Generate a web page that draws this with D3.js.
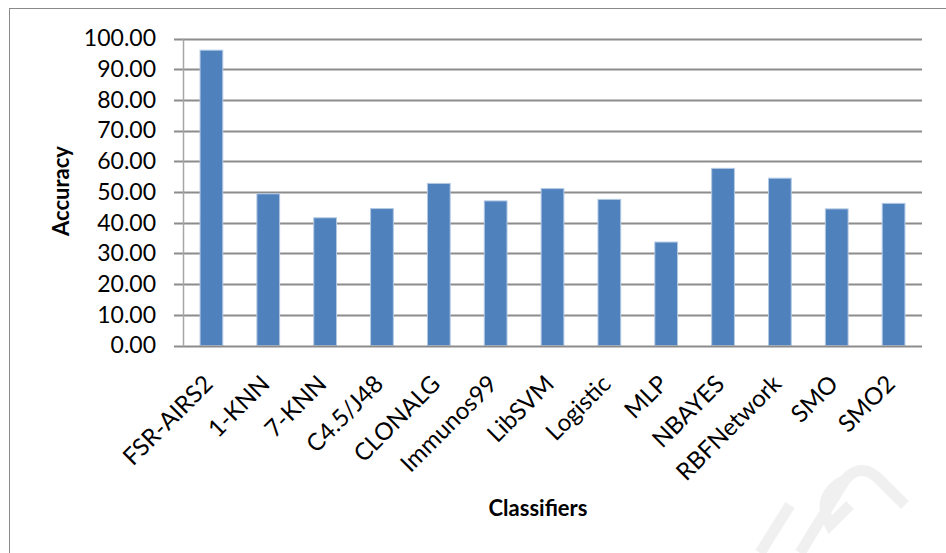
<!DOCTYPE html>
<html>
<head>
<meta charset="utf-8">
<script src="https://cdn.jsdelivr.net/npm/d3@7/dist/d3.min.js"></script>
<style>
html,body{margin:0;padding:0;background:#fff;}
svg{display:block;font-family:Lato, "Open Sans", sans-serif;}
</style>
</head>
<body>
<svg id="chart" width="946" height="553"></svg>
<script>
const categories = ["FSR-AIRS2","1-KNN","7-KNN","C4.5/J48","CLONALG","Immunos99","LibSVM","Logistic","MLP","NBAYES","RBFNetwork","SMO","SMO2"];
const accuracy = [96.2, 49.4, 41.6, 44.6, 52.8, 47.1, 51.1, 47.6, 33.7, 57.7, 54.5, 44.5, 46.3];
const yTicks = [0,10,20,30,40,50,60,70,80,90,100];
const yTitle = "Accuracy";
const xTitle = "Classifiers";

const svg = d3.select("#chart");
const plot = {left:183, right:922, top:38.5, bottom:345.5};

// outer chart border
svg.append("rect").attr("x",9.5).attr("y",8.5).attr("width",960).attr("height",570)
  .attr("fill","#fff").attr("stroke","#8a8a8a").attr("stroke-width",1);

// faint watermark strokes
svg.append("path")
  .attr("d","M760,553 L790,505 M800,553 L845,480 Q860,462 878,478 L905,505 M845,480 Q815,495 830,525 L850,505")
  .attr("fill","none").attr("stroke","#f0f0f0").attr("stroke-width",11);

const x = d3.scaleBand().domain(categories).range([plot.left, plot.right])
  .paddingInner(0.6).paddingOuter(0.3);
const y = d3.scaleLinear().domain([0,100]).range([plot.bottom, plot.top]);

// gridlines
svg.append("g").selectAll("line").data(yTicks.filter(d=>d>0)).join("line")
  .attr("x1",plot.left-9).attr("x2",plot.right)
  .attr("y1",d=>Math.round(y(d))+0.5).attr("y2",d=>Math.round(y(d))+0.5)
  .attr("stroke","#8c8c8c").attr("stroke-width",2);

// y axis
const yAxis = d3.axisLeft(y).tickValues(yTicks).tickFormat(d3.format(".2f")).tickSize(0).tickPadding(27);
const gy = svg.append("g").attr("transform",`translate(${plot.left},0)`).call(yAxis);
gy.select(".domain").remove();
gy.selectAll("text").attr("font-size",23).attr("fill","#000").attr("font-family","Lato, sans-serif");
gy.selectAll("line").remove();
svg.append("line").attr("x1",plot.left+0.5).attr("x2",plot.left+0.5)
  .attr("y1",plot.top).attr("y2",plot.bottom).attr("stroke","#a6a6a6").attr("stroke-width",1.5);

// bars
svg.append("g").selectAll("rect").data(categories).join("rect")
  .attr("x",d=>x(d)).attr("width",x.bandwidth())
  .attr("y",(d,i)=>y(accuracy[i])).attr("height",(d,i)=>plot.bottom - y(accuracy[i]))
  .attr("fill","#4f81bd").attr("stroke","#b3c9e4").attr("stroke-width",1);

// x axis baseline
svg.append("line").attr("x1",plot.left-9).attr("x2",plot.right)
  .attr("y1",Math.round(plot.bottom)+0.5).attr("y2",Math.round(plot.bottom)+0.5)
  .attr("stroke","#8c8c8c").attr("stroke-width",2);

// x axis labels
const xAxis = d3.axisBottom(x).tickSize(0).tickPadding(0);
const gx = svg.append("g").attr("transform",`translate(0,${plot.bottom})`).call(xAxis);
gx.select(".domain").remove();
gx.selectAll("text")
  .attr("font-size",24).attr("fill","#000").attr("font-family","Lato, sans-serif")
  .attr("text-anchor","end").attr("y",null)
  .attr("transform","translate(-3,34) rotate(-45)")
  .attr("dy","0.35em");

// axis titles
svg.append("text").attr("transform","translate(69,191) rotate(-90)")
  .attr("text-anchor","middle").attr("font-size",22).attr("font-weight","bold")
  .attr("font-family","Lato, sans-serif").text(yTitle);
svg.append("text").attr("x",538).attr("y",516)
  .attr("text-anchor","middle").attr("font-size",22).attr("font-weight","bold")
  .attr("font-family","Lato, sans-serif").text(xTitle);
</script>
</body>
</html>
